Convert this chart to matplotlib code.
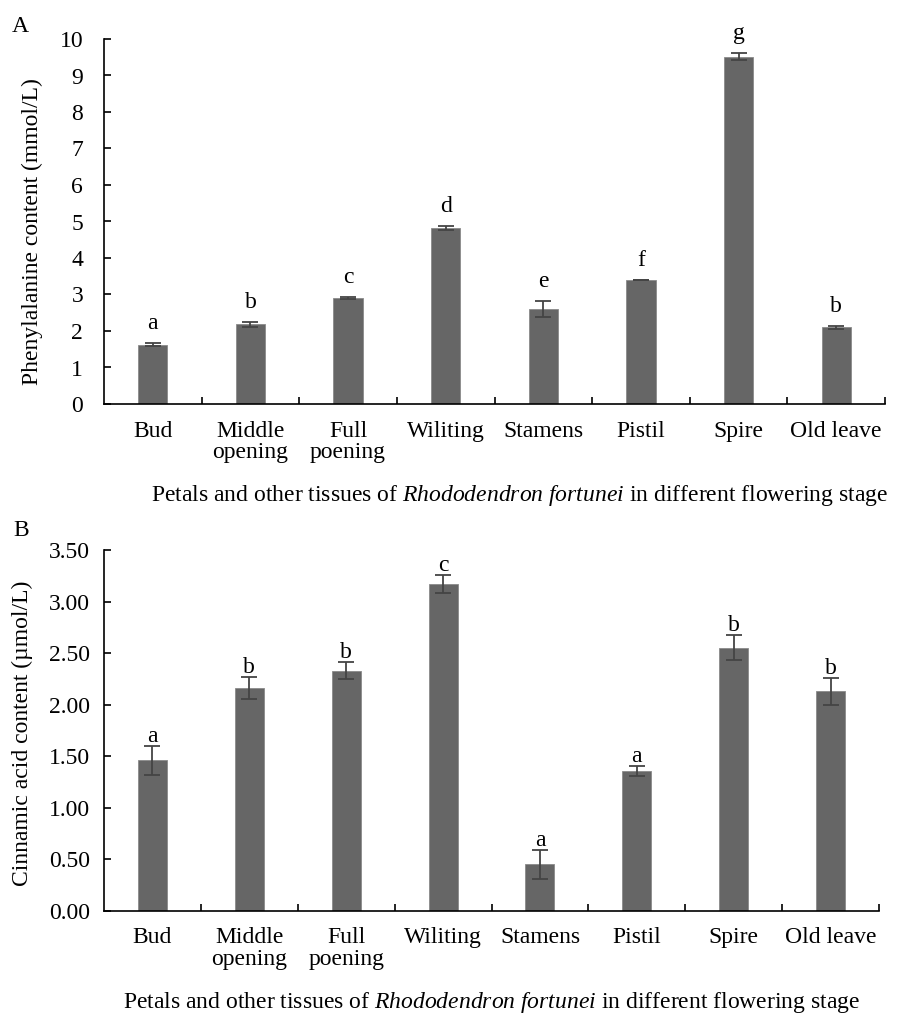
import matplotlib
matplotlib.use("Agg")
import matplotlib.pyplot as plt
import numpy as np

plt.rcParams['font.family'] = ['Liberation Serif', 'DejaVu Serif']
plt.rcParams['mathtext.fontset'] = 'custom'
plt.rcParams['mathtext.rm'] = 'Liberation Serif'
plt.rcParams['mathtext.it'] = 'Liberation Serif:italic'

categories = ["Bud", "Middle\nopening", "Full\npoening", "Wiliting", "Stamens",
              "Pistil", "Spire", "Old leave"]

phe_values = [1.63, 2.18, 2.90, 4.83, 2.60, 3.40, 9.52, 2.10]
phe_errors = [0.04, 0.07, 0.03, 0.06, 0.21, 0.01, 0.10, 0.05]
phe_letters = ["a", "b", "c", "d", "e", "f", "g", "b"]

cin_values = [1.46, 2.16, 2.33, 3.17, 0.45, 1.355, 2.55, 2.13]
cin_errors = [0.14, 0.11, 0.08, 0.09, 0.14, 0.05, 0.12, 0.13]
cin_letters = ["a", "b", "b", "c", "a", "a", "b", "b"]

W, H = 899, 1013
fig = plt.figure(figsize=(W / 100, H / 100), dpi=100)

FS = 17
BAR = "#666666"
ERR = "#444444"


def px(x, y):
    return x / W, 1 - y / H


def panel(rect, values, errors, letters, yticks, fmt, ylabel, ylab_xy,
          letter_off, ypad):
    ax = fig.add_axes(rect)
    x = np.arange(len(categories))
    ax.bar(x, values, width=0.30, color=BAR, edgecolor="#8a8a8a", linewidth=0.6,
           yerr=errors, error_kw=dict(ecolor=ERR, elinewidth=1.3, capsize=6,
                                      capthick=1.3), zorder=2)
    for xi, v, e, l in zip(x, values, errors, letters):
        ax.annotate(l, (xi, v + e), xytext=(0, letter_off), textcoords="offset pixels",
                    ha="center", va="baseline", fontsize=FS)
    ax.set_xlim(-0.5, len(categories) - 0.5)
    ax.set_ylim(yticks[0], yticks[-1])
    ax.set_yticks(yticks)
    ax.set_yticklabels([fmt.format(t) for t in yticks], fontsize=FS)
    ax.set_xticks(np.arange(len(categories)) + 0.5)
    ax.set_xticklabels([])
    ax.set_xticks(x, minor=True)
    ax.set_xticklabels(categories, minor=True, fontsize=FS, linespacing=1.05)
    ax.tick_params(axis="x", which="major", direction="in", length=5, width=1.2)
    ax.tick_params(axis="x", which="minor", length=0, pad=12)
    ax.tick_params(axis="y", direction="in", length=5, width=1.2, pad=ypad)
    for s in ("top", "right"):
        ax.spines[s].set_visible(False)
    for s in ("left", "bottom"):
        ax.spines[s].set_linewidth(1.2)
    fig.text(*px(*ylab_xy), ylabel, rotation=90, ha="center", va="center",
             fontsize=FS)
    return ax


# Panel A
l, b = px(104, 404)
r, t = px(885, 39)
panel([l, b, r - l, t - b], phe_values, phe_errors, phe_letters,
      list(range(0, 11)), "{:d}", "Phenylalanine content (mmol/L)", (32, 232), 14, 15)

# Panel B
l, b = px(104, 910.5)
r, t = px(879, 550)
panel([l, b, r - l, t - b], cin_values, cin_errors, cin_letters,
      [0.0, 0.5, 1.0, 1.5, 2.0, 2.5, 3.0, 3.5], "{:.2f}",
      "Cinnamic acid content (\u00b5mol/L)", (22, 733), 4, 10)

sub = r"Petals and other tissues of $\it{Rhododendron\ fortunei}$ in different flowering stage"
fig.text(*px(520, 501), sub, ha="center", va="baseline", fontsize=FS)
fig.text(*px(492, 1008), sub, ha="center", va="baseline", fontsize=FS)

fig.text(*px(12, 32), "A", ha="left", va="baseline", fontsize=FS)
fig.text(*px(13, 536), "B", ha="left", va="baseline", fontsize=FS)

fig.savefig("out.png", dpi=100)
